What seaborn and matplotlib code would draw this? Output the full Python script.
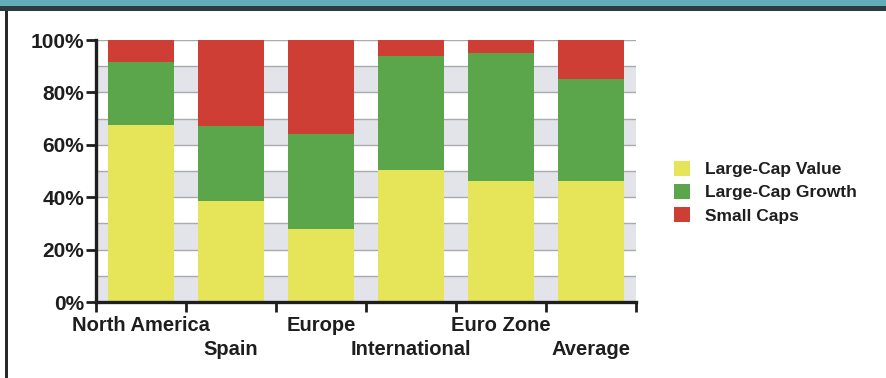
import matplotlib
matplotlib.use("Agg")
import matplotlib.pyplot as plt
from matplotlib.patches import Rectangle, Patch
import seaborn as sns
import pandas as pd
import numpy as np

# Share of each style in the equity universe, by region (%)
regions = ["North America", "Spain", "Europe", "International", "Euro Zone", "Average"]
large_cap_value = [67.5, 38.5, 28.0, 50.5, 46.0, 46.0]
large_cap_growth = [24.0, 28.5, 36.0, 43.5, 49.0, 39.0]
small_caps = [8.5, 33.0, 36.0, 6.0, 5.0, 15.0]
series_names = ["Large-Cap Value", "Large-Cap Growth", "Small Caps"]
y_ticks = [0, 20, 40, 60, 80, 100]
y_tick_labels = ["0%", "20%", "40%", "60%", "80%", "100%"]

colors = {"Large-Cap Value": "#E6E458",
          "Large-Cap Growth": "#5BA64B",
          "Small Caps": "#CF3E35"}
text_color = "#1E1E1E"

sns.set_theme(style="white")
plt.rcParams["font.family"] = ["Liberation Sans", "DejaVu Sans"]
plt.rcParams["font.weight"] = "bold"

df = pd.DataFrame({
    "region": regions,
    "value": large_cap_value,
    "growth": large_cap_growth,
    "small": small_caps,
})
df["cum_value"] = df["value"]
df["cum_growth"] = df["value"] + df["growth"]
df["cum_small"] = df["cum_growth"] + df["small"]

fig = plt.figure(figsize=(8.86, 3.78), dpi=100)
ax = fig.add_axes([96 / 886, 1 - 302 / 378, 540 / 886, 262 / 378])

# alternating bands and gridlines behind the bars
for lo in range(0, 100, 20):
    ax.axhspan(lo, lo + 10, color="#E3E4E9", zorder=0, lw=0)
for g in range(10, 101, 10):
    ax.axhline(g, color="#A9AAAE", lw=1.0, zorder=0.5)

# stacked bars: draw cumulative totals from the top down
for col, name in [("cum_small", "Small Caps"),
                  ("cum_growth", "Large-Cap Growth"),
                  ("cum_value", "Large-Cap Value")]:
    sns.barplot(data=df, x="region", y=col, order=regions, color=colors[name],
                width=0.74, saturation=1, ax=ax, zorder=2,
                edgecolor=colors[name], linewidth=0)

ax.set_xlim(-0.5, len(regions) - 0.5)
ax.set_ylim(0, 100)
ax.set_xlabel("")
ax.set_ylabel("")

# y axis
ax.set_yticks(y_ticks)
ax.set_yticklabels(y_tick_labels, fontsize=15, fontweight="bold", color=text_color)
ax.tick_params(axis="y", which="major", direction="out", length=7, width=2,
               color=text_color, pad=1.5, left=True)

# x axis: ticks at category boundaries, labels staggered on two rows
ax.set_xticks(np.arange(-0.5, len(regions), 1.0))
ax.set_xticklabels([])
ax.set_xticks(np.arange(len(regions)), minor=True)
ax.set_xticklabels(regions, minor=True, fontsize=14.5, fontweight="bold",
                   color=text_color)
ax.tick_params(axis="x", which="major", direction="out", length=7, width=2,
               color=text_color, bottom=True)
ax.tick_params(axis="x", which="minor", length=0)
for i, tick in enumerate(ax.xaxis.get_minor_ticks()):
    tick.set_pad(10 if i % 2 == 0 else 27.5)

for side in ["top", "right"]:
    ax.spines[side].set_visible(False)
for side in ["left", "bottom"]:
    ax.spines[side].set_color(text_color)
    ax.spines[side].set_linewidth(2.4)
    ax.spines[side].set_zorder(5)

handles = [Patch(facecolor=colors[n], edgecolor="none") for n in series_names]
fig.legend(handles, series_names, loc="upper left",
           bbox_to_anchor=(667 / 886, 1 - 154 / 378), frameon=False,
           prop={"size": 12.5, "weight": "bold"}, labelcolor=text_color,
           handlelength=0.95, handleheight=0.95, handletextpad=0.85,
           labelspacing=0.38, borderaxespad=0)

# window frame: teal title strip and left edge
fig.patches.append(Rectangle((0, 1 - 6 / 378), 1, 6 / 378, transform=fig.transFigure,
                             facecolor="#62AEB8", edgecolor="none", zorder=0))
fig.patches.append(Rectangle((0, 1 - 11 / 378), 1, 5 / 378, transform=fig.transFigure,
                             facecolor="#2C3B40", edgecolor="none", zorder=0))
fig.patches.append(Rectangle((5 / 886, 0), 2.5 / 886, 1 - 11 / 378, transform=fig.transFigure,
                             facecolor="#2A2A2A", edgecolor="none", zorder=0))

fig.savefig("out.png", dpi=100)
